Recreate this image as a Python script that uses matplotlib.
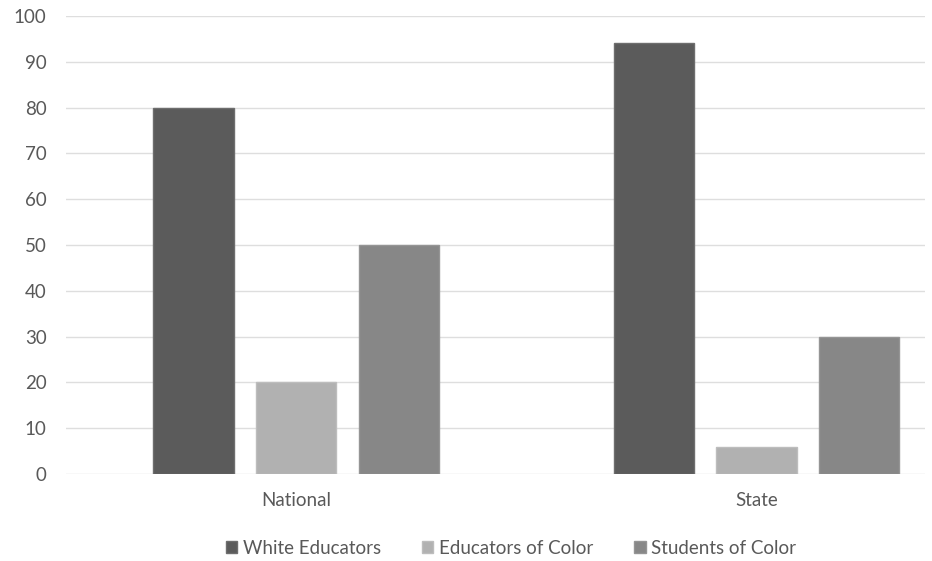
import matplotlib
matplotlib.use("Agg")
import matplotlib.pyplot as plt
import numpy as np

categories = ["National", "State"]
series_names = ["White Educators", "Educators of Color", "Students of Color"]
white_educators = [80, 94]
educators_of_color = [20, 6]
students_of_color = [50, 30]
y_ticks = [0, 10, 20, 30, 40, 50, 60, 70, 80, 90, 100]

values = [white_educators, educators_of_color, students_of_color]
colors = ["#5b5b5b", "#b1b1b1", "#878787"]
edges = ["#6e6e6e", "#bdbdbd", "#959595"]

plt.rcParams["font.family"] = ["Lato", "DejaVu Sans"]

fig = plt.figure(figsize=(9.32, 5.61), dpi=100)
W, H = 932, 561
ax = fig.add_axes([66 / W, 1 - 474 / H, (925 - 66) / W, (474 - 16) / H])

x = np.arange(len(categories))
bar_w = 0.174
step = 0.223
for i, (vals, c, ec, name) in enumerate(zip(values, colors, edges, series_names)):
    ax.bar(x + (i - 1) * step, vals, width=bar_w, color=c, edgecolor=ec,
           linewidth=1.0, label=name, zorder=3)

ax.set_xlim(-0.5, 1.366)
ax.set_ylim(0, 100)
ax.set_yticks(y_ticks)
ax.set_xticks(x)
ax.set_xticklabels(categories)
ax.yaxis.grid(True, color="#dedede", linewidth=1.0, zorder=0)
ax.set_axisbelow(True)
for s in ax.spines.values():
    s.set_visible(False)
ax.tick_params(axis="both", length=0, colors="#595959", labelsize=13.5)
ax.tick_params(axis="y", pad=14)
ax.tick_params(axis="x", pad=13)

handles, labels = ax.get_legend_handles_labels()
fig.legend(handles, labels, loc="center", bbox_to_anchor=(511 / W, 1 - 548 / H),
           ncol=3, frameon=False, fontsize=13.5, handlelength=0.6, handleheight=0.6,
           handletextpad=0.3, columnspacing=2.2, labelcolor="#595959")

fig.savefig("out.png", dpi=100)
